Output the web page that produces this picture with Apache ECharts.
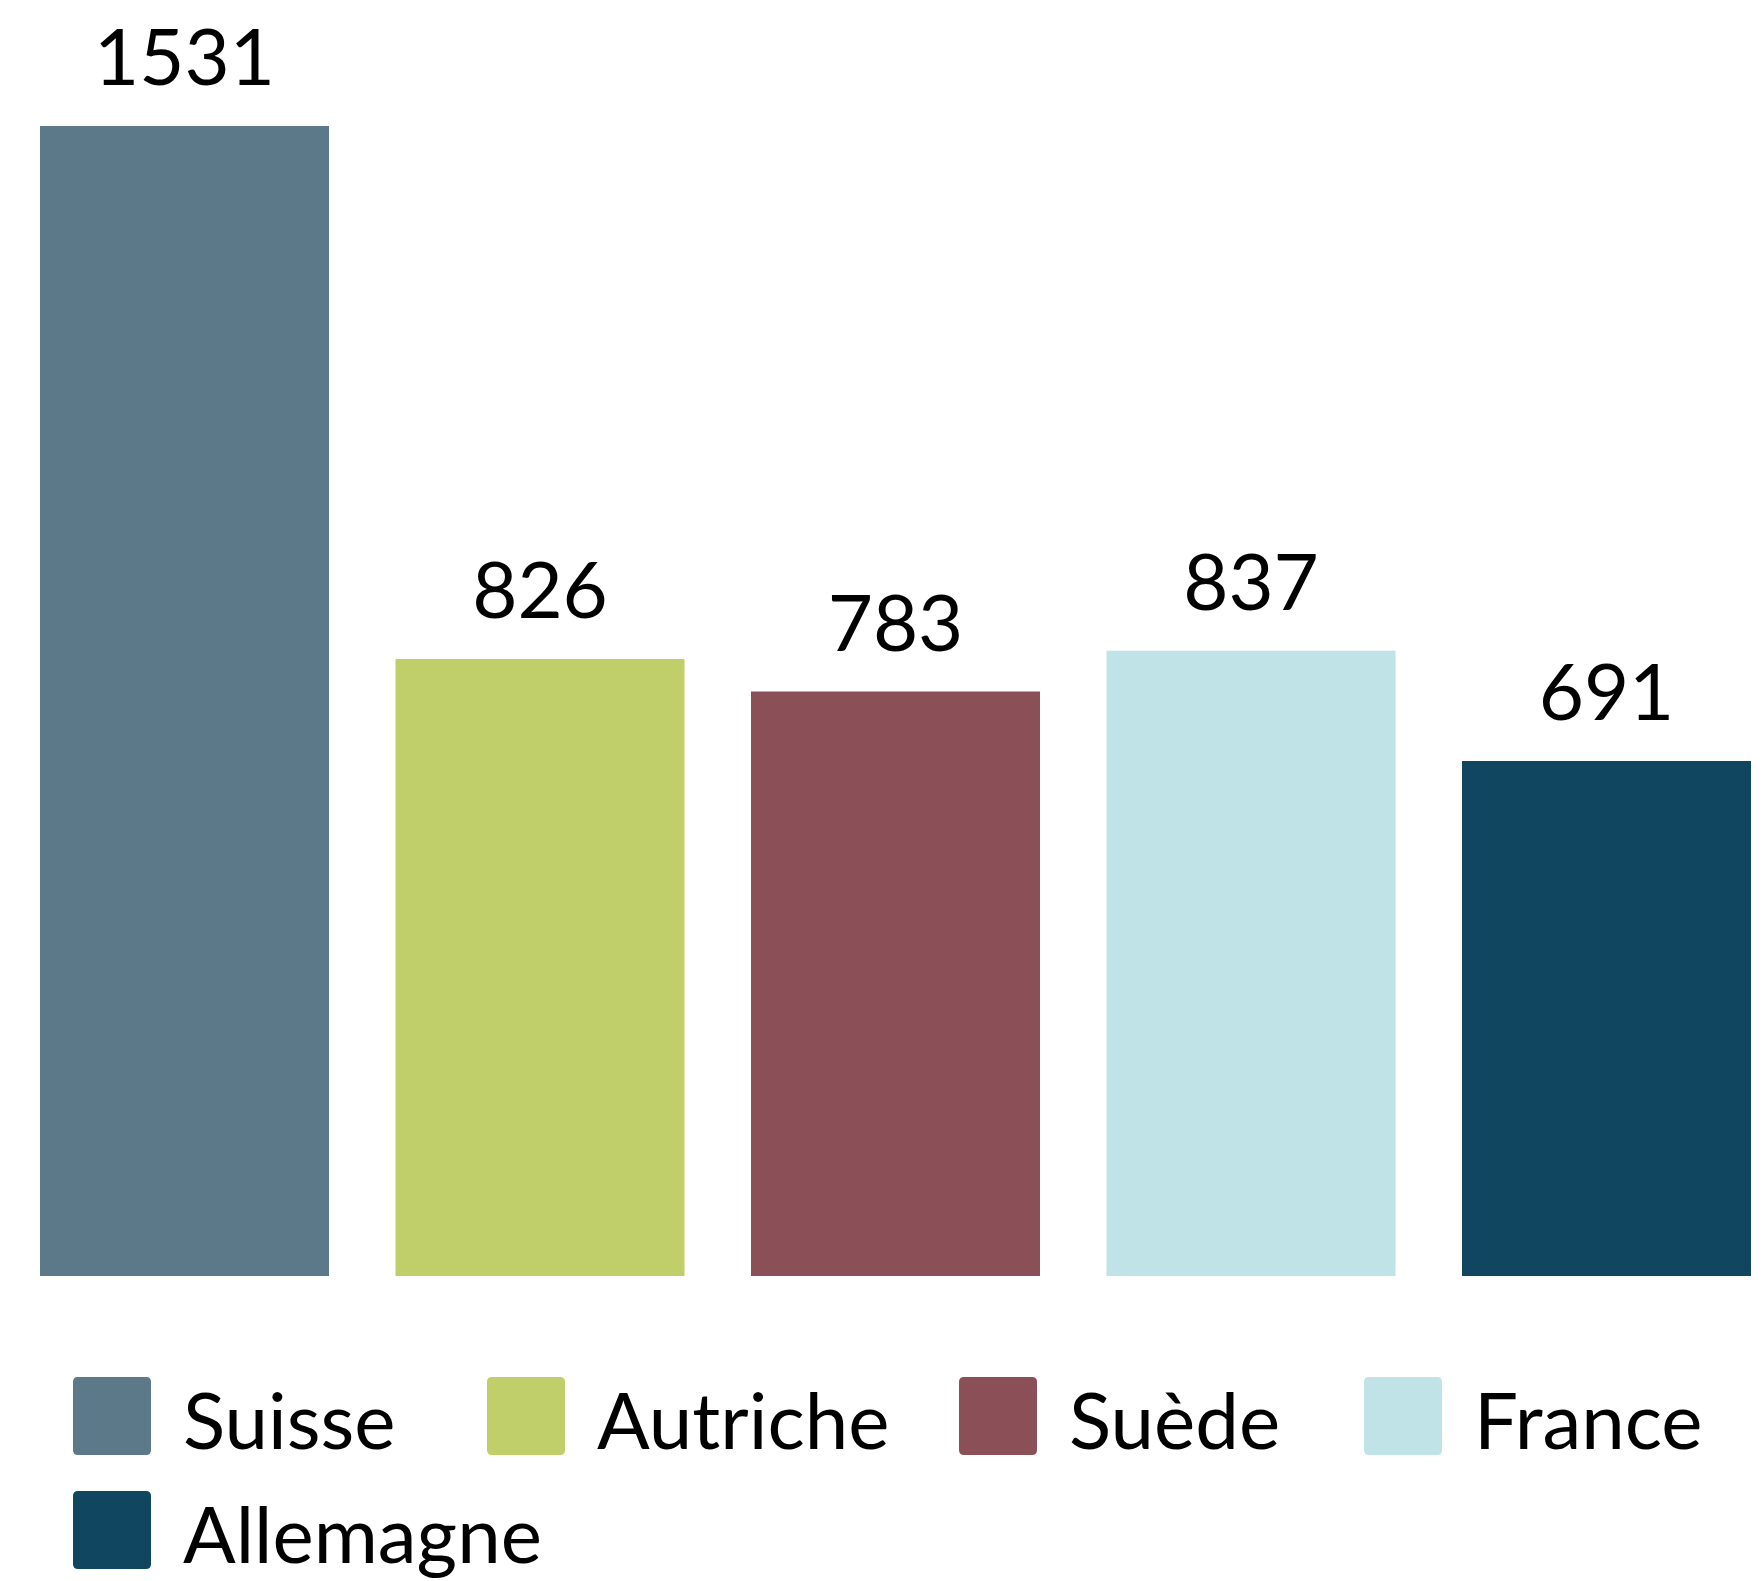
<!DOCTYPE html>
<html>
<head>
<meta charset="utf-8">
<script src="https://cdn.jsdelivr.net/npm/echarts@6/dist/echarts.min.js"></script>
<style>
  html, body { margin: 0; padding: 0; background: #fff; }
  #chart { width: 1762px; height: 1581px; }
</style>
</head>
<body>
<div id="chart"></div>
<script>
// pays et valeurs
var countries = ['Suisse', 'Autriche', 'Suède', 'France', 'Allemagne'];
var values = [1531, 826, 783, 837, 691];
var colors = ['#5B7989', '#C1CF6B', '#8B4F57', '#BFE3E7', '#10465F'];
// largeur de la zone texte de chaque entrée de légende
var legendTextWidths = [284, 342, 275, 250, 400];

var chart = echarts.init(document.getElementById('chart'));

// une série par pays, pour que la légende ait une entrée par couleur
var series = countries.map(function (name, i) {
    var data = countries.map(function (c, j) { return j === i ? values[i] : '-'; });
    return {
        name: name,
        type: 'bar',
        stack: 'tous',
        barWidth: 289,
        data: data,
        itemStyle: { color: colors[i] },
        label: {
            show: true,
            position: 'top',
            distance: 27,
            fontFamily: 'Lato',
            fontSize: 78,
            color: '#000'
        }
    };
});

var legendData = countries.map(function (name, i) {
    return {
        name: name,
        textStyle: { width: legendTextWidths[i], overflow: 'none' }
    };
});

// carré arrondi en haut d'une boîte de 78x94 : le texte tombe un peu plus bas que le centre du carré
var legendIcon = 'path://M0,94 M5,0 H73 Q78,0 78,5 V73 Q78,78 73,78 H5 Q0,78 0,73 V5 Q0,0 5,0 Z';

var option = {
    animation: false,
    backgroundColor: '#fff',
    grid: {
        left: 184.5,
        right: 155.5,
        top: 126,
        bottom: 305
    },
    legend: {
        left: 73,
        top: 1377,
        right: 0,
        padding: 0,
        icon: legendIcon,
        itemWidth: 78,
        itemHeight: 94,
        itemGap: 20,
        data: legendData,
        textStyle: {
            fontFamily: 'Lato',
            fontSize: 78,
            lineHeight: 78,
            color: '#000',
            padding: [0, 0, 0, 27]
        }
    },
    xAxis: {
        type: 'category',
        data: countries,
        boundaryGap: false,
        show: false
    },
    yAxis: {
        type: 'value',
        min: 10,
        max: 'dataMax',
        show: false
    },
    series: series
};

chart.setOption(option);
</script>
</body>
</html>
